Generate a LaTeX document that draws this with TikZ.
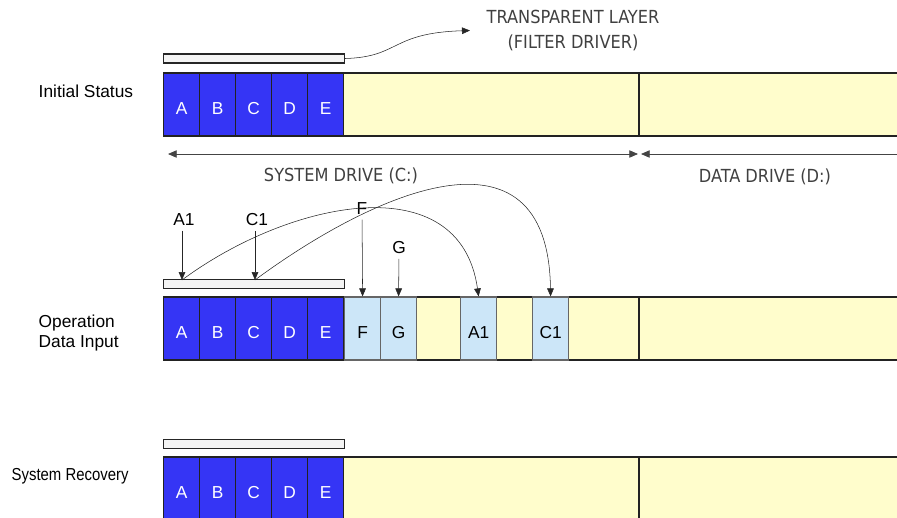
\documentclass[tikz,border=0pt]{standalone}
\usepackage{fontspec}
\setmainfont{Liberation Sans}
\newfontfamily\cadfont{DejaVu Sans Condensed}
\newfontfamily\narrowfont[FakeStretch=0.86]{Liberation Sans}
\usetikzlibrary{arrows.meta}
\definecolor{cBlue}{HTML}{3535F5}
\definecolor{cCream}{HTML}{FFFDCC}
\definecolor{cIce}{HTML}{CCE6F8}
\definecolor{cLayer}{HTML}{F4F4F4}
\definecolor{cEdge}{HTML}{222222}
\definecolor{cDrive}{HTML}{444444}

\begin{document}
\begin{tikzpicture}[x=0.75pt,y=-0.75pt,font=\fontsize{13}{15}\selectfont,
      bar/.style={draw=cEdge,line width=0.9pt,fill=cCream,minimum width=555pt,minimum height=47.25pt,anchor=west,inner sep=0pt},
      blk/.style={draw=cEdge,line width=0.9pt,fill=cBlue,text=white,minimum width=27pt,minimum height=47.25pt,
        text height=15pt,text depth=0pt,anchor=west,inner sep=0pt},
      ice/.style={blk,draw=black!60,fill=cIce,text=black},
      lay/.style={draw=black!85,line width=0.9pt,fill=cLayer,minimum width=135.75pt,minimum height=6.75pt,anchor=west,inner sep=0pt},
      cad/.style={font=\cadfont\fontsize{13.5}{18.75}\selectfont,text=black!75,align=center},
      arr/.style={black!85,-{Triangle[length=6pt,width=5pt]}},
      drv/.style={cDrive,line width=0.6pt,{Triangle[length=6.5pt,width=5.5pt]}-{Triangle[length=6.5pt,width=5.5pt]}}]
    \useasboundingbox (0,0) rectangle (897,518);
    \clip (0,0) rectangle (897,518);

    % three partitions: A..E protected, rest free
    \foreach \r/\yy in {1/104.5,2/328.5,3/488.5} {
      \node[bar] (bar\r) at (163,\yy) {};
      \draw[cEdge,line width=0.9pt] (639,\yy-31.5) -- (639,\yy+31.5);
      \foreach \l [count=\i from 0] in {A,B,C,D,E}
        \node[blk] (b\r\l) at (163+\i*36,\yy) {\l};
    }
    \node[lay] (lay1) at (163,58.5) {};
    \node[lay] (lay2) at (163,284) {};
    \node[lay] (lay3) at (163,444) {};

    % redirected writes
    \node[ice] (bF)  at (344,328.5) {F};
    \node[ice] (bG)  at (380,328.5) {G};
    \node[ice] (bA1) at (460,328.5) {A1};
    \node[ice] (bC1) at (532,328.5) {C1};

    \node[anchor=west] (st1) at (34,91) {Initial Status};
    \node[anchor=west,align=left] (st2) at (34,333) {Operation\\Data Input};
    \node[anchor=west,font=\narrowfont\fontsize{13}{15}\selectfont] (st3) at (7,476) {System Recovery};

    \node[cad] (tl) at (573,30.5) {TRANSPARENT LAYER\\(FILTER DRIVER)};
    \draw[arr] (lay1.east) .. controls (400,57) and (390,33) .. ([xshift=-9pt]tl.west);

    \coordinate (c0) at (168,154);
    \coordinate (c1) at (638,154);
    \coordinate (d0) at (641,154);
    \coordinate (d1) at (910,154);
    \draw[drv] (c0) -- (c1);
    \draw[drv] (d0) -- (d1);
    \node[cad] (sysd) at (341,176) {SYSTEM DRIVE (C:)};
    \node[cad] (datd) at (765,177) {DATA DRIVE (D:)};

    \node (lA1) at (184,220) {A1};
    \node (lC1) at (257,220) {C1};
    \node (lF)  at (362,209) {F};
    \node (lG)  at (399,248) {G};
    \coordinate (pA1) at (182,280);
    \coordinate (pC1) at (255,280);
    \draw[arr] (lA1.south -| pA1) -- (pA1);
    \draw[arr] (lC1.south -| pC1) -- (pC1);
    \draw[arr] (lF) -- (bF.north);
    \draw[arr] (lG) -- (bG.north);
    \draw[arr] (pA1) .. controls (290,200) and (460,165) .. (bA1.north);
    \draw[arr] (pC1) .. controls (370,195) and (548,112) .. (bC1.north);
  \end{tikzpicture}
\end{document}
